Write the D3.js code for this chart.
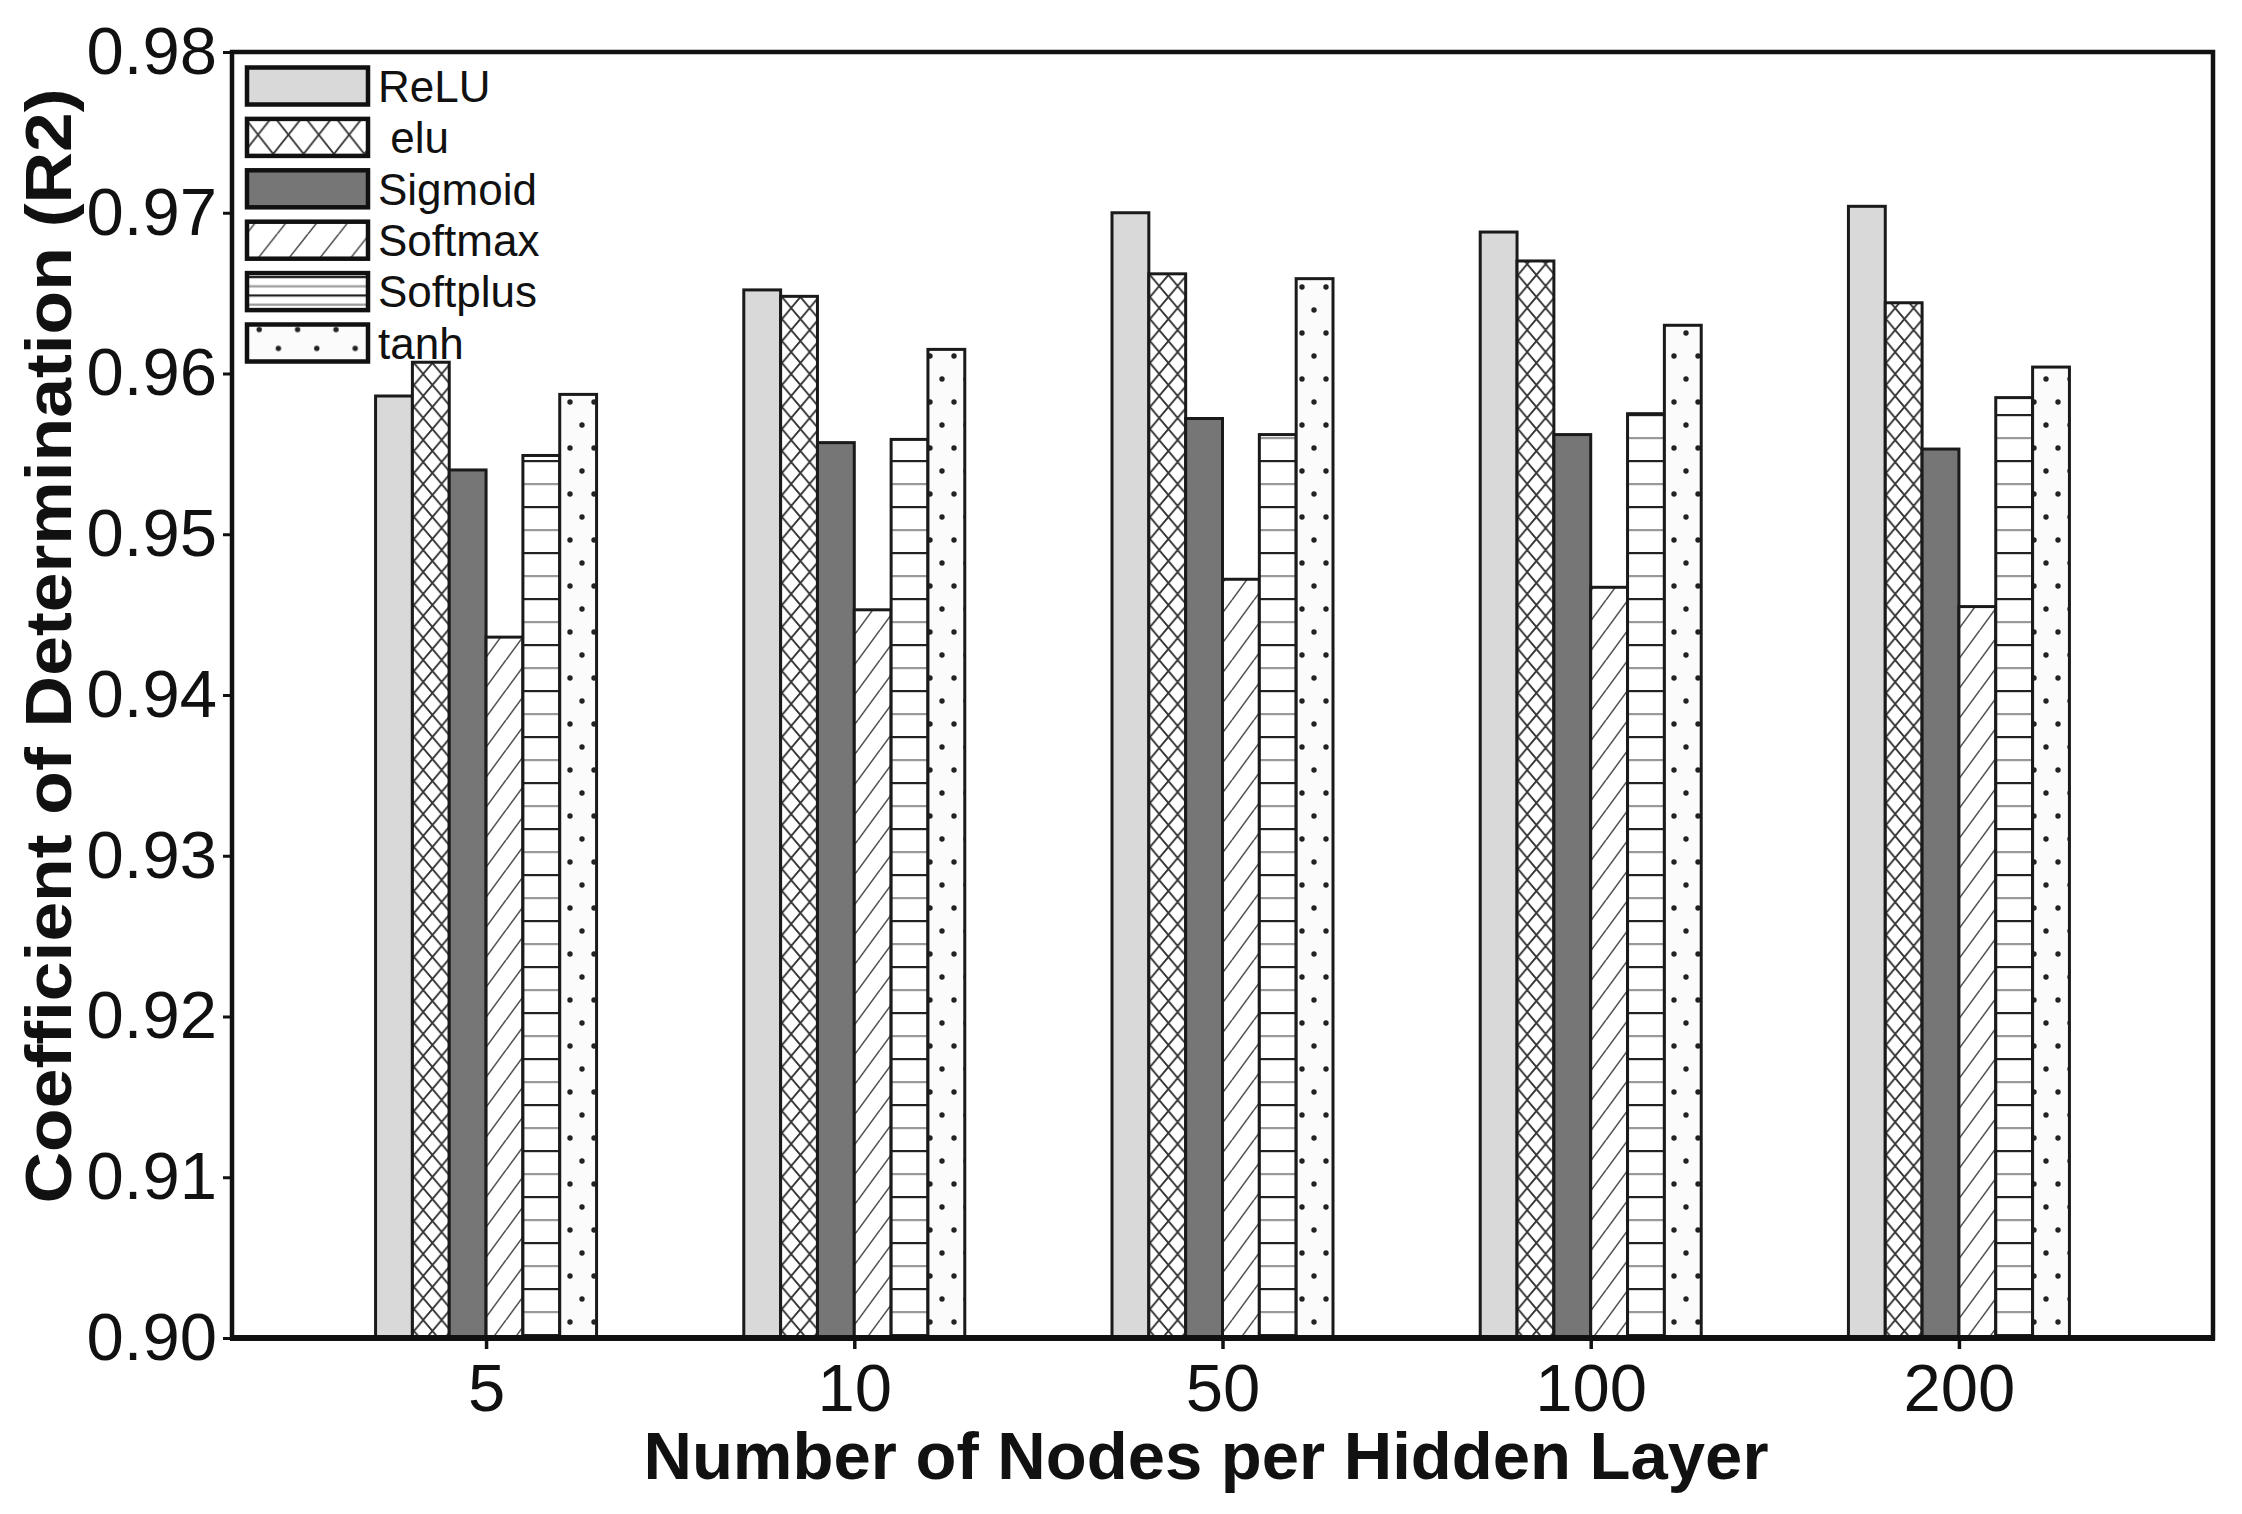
<!DOCTYPE html>
<html>
<head>
<meta charset="utf-8">
<script src="https://cdn.jsdelivr.net/npm/d3@7"></script>
<style>
  html, body { margin: 0; padding: 0; background: #fff; }
  svg { display: block; }
  text { font-family: "Liberation Sans", Arial, Helvetica, sans-serif; fill: #111; }
</style>
</head>
<body>
<script>
// ---------- data ----------
const categories = ["5", "10", "50", "100", "200"];
const seriesNames = ["ReLU", "elu", "Sigmoid", "Softmax", "Softplus", "tanh"];
const legendLabels = ["ReLU", " elu", "Sigmoid", "Softmax", "Softplus", "tanh"];
const reluValues     = [0.9586, 0.9652, 0.9700, 0.9688, 0.9704];
const eluValues      = [0.9607, 0.9648, 0.9662, 0.9670, 0.9644];
const sigmoidValues  = [0.9540, 0.9557, 0.9572, 0.9562, 0.9553];
const softmaxValues  = [0.9436, 0.9453, 0.9472, 0.9467, 0.9455];
const softplusValues = [0.9549, 0.9559, 0.9562, 0.9575, 0.9585];
const tanhValues     = [0.9587, 0.9615, 0.9659, 0.9630, 0.9604];
const yTickValues = [0.90, 0.91, 0.92, 0.93, 0.94, 0.95, 0.96, 0.97, 0.98];
const yDomain = [0.90, 0.98];
const xTitle = "Number of Nodes per Hidden Layer";
const yTitle = "Coefficient of Determination (R2)";

const seriesValues = [reluValues, eluValues, sigmoidValues, softmaxValues, softplusValues, tanhValues];

// ---------- layout ----------
const W = 2242, H = 1514;
const plot = { left: 232, right: 2213, top: 52, bottom: 1338 };

const svg = d3.select("body").append("svg").attr("width", W).attr("height", H);
const defs = svg.append("defs");

function makePatterns(prefix, s) {
  // crosshatch (elu)
  const ph = defs.append("pattern").attr("id", prefix + "cross").attr("patternUnits", "userSpaceOnUse")
    .attr("width", 18.4 * s.cx).attr("height", 22 * s.cy);
  ph.append("rect").attr("width", 18.4 * s.cx).attr("height", 22 * s.cy).attr("fill", "#fff");
  ph.append("path").attr("d", `M0,0 L${18.4 * s.cx},${22 * s.cy} M${18.4 * s.cx},0 L0,${22 * s.cy}`)
    .attr("stroke", "#333").attr("stroke-width", 1.8);
  // diagonal (softmax)
  const pd = defs.append("pattern").attr("id", prefix + "diag").attr("patternUnits", "userSpaceOnUse")
    .attr("width", 22 * s.dx).attr("height", 30 * s.dy);
  pd.append("rect").attr("width", 22 * s.dx).attr("height", 30 * s.dy).attr("fill", "#fff");
  pd.append("path").attr("d", `M0,${30 * s.dy} L${22 * s.dx},0 M${-22 * s.dx},${30 * s.dy} L0,0 M${22 * s.dx},${30 * s.dy} L${44 * s.dx},0`)
    .attr("stroke", "#555").attr("stroke-width", 1.6);
  // horizontal (softplus)
  const pl = defs.append("pattern").attr("id", prefix + "horiz").attr("patternUnits", "userSpaceOnUse")
    .attr("width", 40).attr("height", 46 * s.hy);
  pl.append("rect").attr("width", 40).attr("height", 46 * s.hy).attr("fill", "#fff");
  pl.append("rect").attr("y", 0).attr("width", 40).attr("height", 2.2).attr("fill", "#222");
  pl.append("rect").attr("y", 23 * s.hy).attr("width", 40).attr("height", 2.2).attr("fill", "#999");
  // dots (tanh)
  const pt = defs.append("pattern").attr("id", prefix + "dots").attr("patternUnits", "userSpaceOnUse")
    .attr("width", 24 * s.tx).attr("height", 46 * s.ty);
  pt.append("rect").attr("width", 24 * s.tx).attr("height", 46 * s.ty).attr("fill", "#fbfbfb");
  pt.append("circle").attr("cx", 6 * s.tx).attr("cy", 11 * s.ty).attr("r", 2.7).attr("fill", "#222");
  pt.append("circle").attr("cx", 18 * s.tx).attr("cy", 34 * s.ty).attr("r", 2.7).attr("fill", "#222");
}
makePatterns("b-", { cx: 1, cy: 1, dx: 1, dy: 1, hy: 1, tx: 1, ty: 1 });
makePatterns("l-", { cx: 1.65, cy: 1.75, dx: 1.4, dy: 1.3, hy: 0.4, tx: 1.6, ty: 0.82 });

const fills = (prefix) => ["#d9d9d9", `url(#${prefix}cross)`, "#767676",
  `url(#${prefix}diag)`, `url(#${prefix}horiz)`, `url(#${prefix}dots)`];
const barFills = fills("b-");
const legendFills = fills("l-");

// ---------- scales ----------
const x = d3.scalePoint().domain(categories).range([plot.left, plot.right]).padding(0.69);
const inner = d3.scaleBand().domain(seriesNames).range([-110.5, 110.5]).padding(0);
const y = d3.scaleLinear().domain(yDomain).range([plot.bottom, plot.top]);

// ---------- bars ----------
const gBars = svg.append("g");
seriesNames.forEach((name, si) => {
  gBars.append("g").selectAll("rect")
    .data(seriesValues[si])
    .join("rect")
    .attr("x", (d, i) => x(categories[i]) + inner(name))
    .attr("y", d => y(d))
    .attr("width", inner.bandwidth())
    .attr("height", d => y(yDomain[0]) - y(d))
    .attr("fill", barFills[si])
    .attr("stroke", "#1a1a1a")
    .attr("stroke-width", 3);
});

// ---------- axes ----------
const yAxis = d3.axisLeft(y).tickValues(yTickValues).tickFormat(d3.format(".2f")).tickSize(9).tickPadding(6);
const gy = svg.append("g").attr("transform", `translate(${plot.left},0)`).call(yAxis);
gy.select(".domain").remove();
gy.selectAll(".tick line").attr("stroke", "#111").attr("stroke-width", 3);
gy.selectAll(".tick text").attr("font-size", 67).attr("fill", "#111").attr("font-family", "Liberation Sans, Arial, sans-serif");

const xAxis = d3.axisBottom(x).tickSize(11).tickPadding(14);
const gx = svg.append("g").attr("transform", `translate(0,${plot.bottom})`).call(xAxis);
gx.select(".domain").remove();
gx.selectAll(".tick line").attr("stroke", "#111").attr("stroke-width", 3.5);
gx.selectAll(".tick text").attr("font-size", 67).attr("fill", "#111").attr("font-family", "Liberation Sans, Arial, sans-serif");

// frame
svg.append("rect")
  .attr("x", plot.left).attr("y", plot.top)
  .attr("width", plot.right - plot.left).attr("height", plot.bottom - plot.top)
  .attr("fill", "none").attr("stroke", "#111").attr("stroke-width", 4.5);
svg.append("line").attr("x1", plot.left - 2).attr("x2", plot.right + 2)
  .attr("y1", plot.bottom).attr("y2", plot.bottom).attr("stroke", "#111").attr("stroke-width", 6);

// titles
svg.append("text")
  .attr("x", 1206).attr("y", 1479)
  .attr("text-anchor", "middle").attr("font-size", 67).attr("font-weight", "bold")
  .attr("textLength", 1125).attr("lengthAdjust", "spacingAndGlyphs")
  .text(xTitle);
svg.append("text")
  .attr("transform", `translate(71,${646}) rotate(-90)`)
  .attr("text-anchor", "middle").attr("font-size", 64).attr("font-weight", "bold")
  .attr("textLength", 1115).attr("lengthAdjust", "spacingAndGlyphs")
  .text(yTitle);

// ---------- legend ----------
const legendY = d3.scalePoint().domain(seriesNames).range([86, 343]);
const lg = svg.append("g");
seriesNames.forEach((name, si) => {
  const cy = legendY(name);
  lg.append("rect")
    .attr("x", 247).attr("y", cy - 18.5).attr("width", 121).attr("height", 37)
    .attr("fill", legendFills[si]).attr("stroke", "#111").attr("stroke-width", 4.5);
  lg.append("text")
    .attr("x", 378).attr("y", cy).attr("dy", "0.36em")
    .attr("font-size", 44).style("white-space", "pre")
    .text(legendLabels[si]);
});
</script>
</body>
</html>
